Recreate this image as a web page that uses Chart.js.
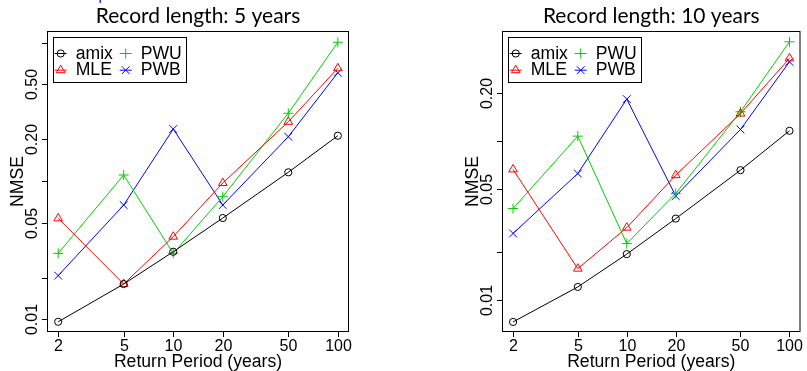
<!DOCTYPE html>
<html><head><meta charset="utf-8">
<script src="https://cdn.jsdelivr.net/npm/chart.js@4.4.0/dist/chart.umd.min.js"></script>
<style>
html,body{margin:0;padding:0;background:#fff;}
#wrap{position:relative;width:807px;height:371px;overflow:hidden;background:#fff;}
canvas{position:absolute;top:0;}
</style></head><body>
<div id="wrap">
<canvas id="c1" width="400" height="371" style="left:0;width:400px;height:371px"></canvas>
<canvas id="c2" width="407" height="371" style="left:400px;width:407px;height:371px"></canvas>
</div>
<script>
// ---- data ----
const periods = [2, 5, 10, 20, 50, 100];
const xTickLabels = ['2', '5', '10', '20', '50', '100'];

const seriesNames = ['amix', 'MLE', 'PWU', 'PWB'];
const seriesColors = ['#000000', '#FF0000', '#00CD00', '#0000FF'];
const seriesStyles = ['circle', 'triangle', 'cross', 'crossRot'];
const seriesRadius = [3.6, 5, 5, 5.5];

// Record length: 5 years
const amix5 = [0.0096, 0.0180, 0.0308, 0.054, 0.1156, 0.2126];
const mle5  = [0.0537, 0.0180, 0.0396, 0.0967, 0.268, 0.653];
const pwu5  = [0.0300, 0.1105, 0.0300, 0.077, 0.309, 1.007];
const pwb5  = [0.0207, 0.067, 0.2377, 0.067, 0.209, 0.607];
const yTicks5 = [0.01, 0.02, 0.05, 0.1, 0.2, 0.5, 1];
const yTickLabels5 = ['0.01', '', '0.05', '', '0.20', '0.50', ''];

// Record length: 10 years
const amix10 = [0.00731, 0.01213, 0.0195, 0.0326, 0.0657, 0.1161];
const mle10  = [0.0664, 0.0158, 0.0286, 0.0611, 0.149, 0.331];
const pwu10  = [0.0377, 0.1075, 0.0227, 0.0469, 0.153, 0.421];
const pwb10  = [0.0263, 0.0626, 0.1837, 0.0452, 0.1184, 0.315];
const yTicks10 = [0.01, 0.02, 0.05, 0.1, 0.2];
const yTickLabels10 = ['0.01', '', '0.05', '', '0.20'];

const titles = ['Record length: 5 years', 'Record length: 10 years'];
const xTitle = 'Return Period (years)';
const yTitle = 'NMSE';

const FONT = '"Liberation Sans", Arial, Helvetica, sans-serif';

function drawMark(ctx, style, x, y, r, color) {
  ctx.save();
  ctx.strokeStyle = color; ctx.lineWidth = 1;
  ctx.beginPath();
  if (style === 'circle') {
    ctx.arc(x, y, r, 0, Math.PI * 2);
  } else if (style === 'triangle') {
    for (let k = 0; k < 3; k++) {
      const ang = k * 2 * Math.PI / 3;
      const px = x + Math.sin(ang) * r, py = y - Math.cos(ang) * r;
      if (k === 0) ctx.moveTo(px, py); else ctx.lineTo(px, py);
    }
    ctx.closePath();
  } else if (style === 'cross') {
    ctx.moveTo(x - r, y); ctx.lineTo(x + r, y);
    ctx.moveTo(x, y - r); ctx.lineTo(x, y + r);
  } else {
    const d = r * Math.SQRT1_2;
    ctx.moveTo(x - d, y - d); ctx.lineTo(x + d, y + d);
    ctx.moveTo(x - d, y + d); ctx.lineTo(x + d, y - d);
  }
  ctx.stroke();
  ctx.restore();
}

const rPanel = {
  id: 'rPanel',
  afterDraw(chart, args, o) {
    const ctx = chart.ctx, a = chart.chartArea;
    const xs = chart.scales.x, ys = chart.scales.y;
    ctx.save();
    ctx.strokeStyle = '#000'; ctx.fillStyle = '#000'; ctx.lineWidth = 1;
    // box
    ctx.strokeRect(a.left + 0.5, a.top + 0.5, a.right - a.left - 1, a.bottom - a.top - 1);
    // x axis ticks + labels
    ctx.font = '16px ' + FONT;
    ctx.textAlign = 'center'; ctx.textBaseline = 'alphabetic';
    periods.forEach((v, i) => {
      const px = Math.round(xs.getPixelForValue(v)) + 0.5;
      ctx.beginPath(); ctx.moveTo(px, a.bottom - 0.5); ctx.lineTo(px, a.bottom + 5); ctx.stroke();
      ctx.fillText(xTickLabels[i], px, a.bottom + 18.5);
    });
    // y axis ticks + labels (rotated)
    o.yTicks.forEach((v, i) => {
      const py = Math.round(ys.getPixelForValue(v)) + 0.5;
      ctx.beginPath(); ctx.moveTo(a.left + 0.5, py); ctx.lineTo(a.left - 5, py); ctx.stroke();
      if (o.yLabels[i]) {
        ctx.save();
        ctx.translate(a.left - 10, py);
        ctx.rotate(-Math.PI / 2);
        ctx.fillText(o.yLabels[i], 0, 0);
        ctx.restore();
      }
    });
    // axis titles
    ctx.font = '17.6px ' + FONT;
    ctx.fillText(xTitle, (a.left + a.right) / 2, a.bottom + 34.5);
    ctx.save();
    ctx.translate(a.left - 24, (a.top + a.bottom) / 2);
    ctx.rotate(-Math.PI / 2);
    ctx.fillText(yTitle, 0, 0);
    ctx.restore();
    // main title
    ctx.font = '21px Lato, "Open Sans", sans-serif';
    ctx.fillText(o.title, (a.left + a.right) / 2, 22.5);
    // legend
    const lx = a.left + 6, ly = a.top + 6, lw = 133, lh = 45;
    ctx.fillStyle = '#fff';
    ctx.fillRect(lx, ly, lw, lh);
    ctx.strokeStyle = '#000';
    ctx.strokeRect(lx + 0.5, ly + 0.5, lw, lh);
    ctx.font = '17.6px ' + FONT;
    ctx.textAlign = 'left';
    const order = [[0, 0, 0], [1, 0, 1], [2, 1, 0], [3, 1, 1]]; // series, col, row
    order.forEach(([s, col, row]) => {
      const cx = lx + 1.7 + col * 65;
      const cy = ly + 16 + row * 16.7;
      ctx.strokeStyle = seriesColors[s];
      ctx.beginPath(); ctx.moveTo(cx, cy + 0.5); ctx.lineTo(cx + 12, cy + 0.5); ctx.stroke();
      drawMark(ctx, seriesStyles[s], cx + 6, cy + 0.5, seriesRadius[s], seriesColors[s]);
      ctx.fillStyle = '#000';
      ctx.fillText(seriesNames[s], cx + 21, cy + 5.5);
    });
    if (o.artifact) {
      ctx.fillStyle = '#3333CC';
      ctx.fillRect(99.5, 0, 1.5, 3);
    }
    ctx.restore();
  }
};

function makeChart(id, seriesVals, yMin, yMax, yTicks, yLabels, title, padRight, padLeft, artifact) {
  const datasets = seriesVals.map((vals, s) => ({
    label: seriesNames[s],
    data: periods.map((p, i) => ({ x: p, y: vals[i] })),
    borderColor: seriesColors[s],
    backgroundColor: 'rgba(0,0,0,0)',
    borderWidth: 1,
    pointStyle: seriesStyles[s],
    pointRadius: seriesRadius[s],
    pointBorderWidth: 1,
    pointBorderColor: seriesColors[s],
    pointBackgroundColor: 'rgba(0,0,0,0)',
    tension: 0,
    fill: false
  }));
  return new Chart(document.getElementById(id), {
    type: 'line',
    data: { datasets },
    options: {
      responsive: false,
      animation: false,
      devicePixelRatio: 1,
      layout: { padding: { left: padLeft, right: padRight, top: 31, bottom: 39 } },
      scales: {
        x: { type: 'logarithmic', min: 1.71, max: 116.9, display: false },
        y: { type: 'logarithmic', min: yMin, max: yMax, display: false }
      },
      plugins: {
        legend: { display: false },
        tooltip: { enabled: false },
        rPanel: { yTicks, yLabels, title, artifact }
      }
    },
    plugins: [rPanel]
  });
}

makeChart('c1', [amix5, mle5, pwu5, pwb5], 0.0081, 1.215, yTicks5, yTickLabels5, titles[0], 51, 47, true);
makeChart('c2', [amix10, mle10, pwu10, pwb10], 0.00632, 0.492, yTicks10, yTickLabels10, titles[1], 3, 102, false);
</script>
</body></html>
